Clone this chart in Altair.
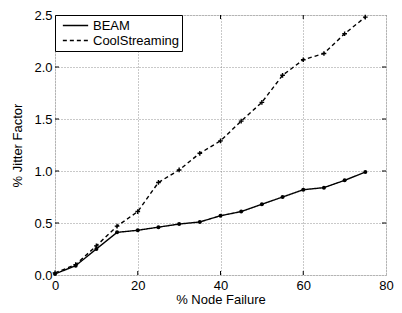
import altair as alt
import pandas as pd

failure = [0, 5, 10, 15, 20, 25, 30, 35, 40, 45, 50, 55, 60, 65, 70, 75]
beam = [0.01, 0.09, 0.25, 0.41, 0.43, 0.46, 0.49, 0.51, 0.57, 0.61, 0.68, 0.75, 0.82, 0.84, 0.91, 0.99]
cool = [0.02, 0.10, 0.28, 0.47, 0.61, 0.89, 1.01, 1.17, 1.29, 1.48, 1.66, 1.92, 2.07, 2.13, 2.32, 2.48]
series = ["BEAM", "CoolStreaming"]
x_ticks = [0, 20, 40, 60, 80]
y_ticks = [0, 0.5, 1, 1.5, 2, 2.5]

W, H = 331, 260
FONT = "Liberation Sans"
FS = 13

rows = []
for name, vals in zip(series, [beam, cool]):
    for f, v in zip(failure, vals):
        rows.append({"failure": f, "jitter": v, "series": name})
df = pd.DataFrame(rows)

xs = alt.Scale(domain=[0, 80], nice=False)
ys = alt.Scale(domain=[0, 2.5], nice=False)

common = dict(grid=True, gridDash=[1, 2], gridColor="#777", gridWidth=0.8,
              ticks=False, domain=False, labelFontSize=FS, titleFontSize=FS,
              labelFont=FONT, titleFont=FONT, labelColor="black",
              titleColor="black", titleFontWeight="normal", labelFlush=False)
xaxis = alt.Axis(values=x_ticks, title="% Node Failure", labelPadding=4,
                 titlePadding=1, **common)
yaxis = alt.Axis(values=y_ticks, title="% Jitter Factor", labelPadding=3,
                 titlePadding=9, **common)

base = alt.Chart(df)

lines = base.mark_line(color="black", strokeWidth=1.4).encode(
    x=alt.X("failure:Q", scale=xs, axis=xaxis),
    y=alt.Y("jitter:Q", scale=ys, axis=yaxis),
    strokeDash=alt.StrokeDash("series:N",
        scale=alt.Scale(domain=series, range=[[1, 0], [4, 3]]),
        legend=alt.Legend(title=None, orient="top-left", offset=0,
                          strokeColor="black", fillColor="white",
                          padding=3, labelFont=FONT, labelFontSize=FS,
                          labelColor="black", symbolType="M-2,0H2",
                          symbolStrokeColor="black", symbolFillColor="transparent",
                          symbolStrokeWidth=1.4, symbolOffset=10,
                          labelExpr="datum.label + '   '",
                          symbolSize=160, rowPadding=0, labelOffset=10)),
)

pts_beam = alt.Chart(df[df.series == "BEAM"]).mark_point(
    shape="circle", filled=True, color="black", size=16, opacity=1).encode(
    x=alt.X("failure:Q", scale=xs), y=alt.Y("jitter:Q", scale=ys))

pts_cool = alt.Chart(df[df.series == "CoolStreaming"]).mark_point(
    shape="M-1,0H1M0,-1V1", filled=False, color="black", size=22,
    strokeWidth=1.4, opacity=1).encode(
    x=alt.X("failure:Q", scale=xs), y=alt.Y("jitter:Q", scale=ys))

xt = pd.DataFrame({"v": x_ticks[1:-1]})
yt = pd.DataFrame({"v": y_ticks[1:-1]})
tick_bottom = alt.Chart(xt).mark_rule(color="black", strokeWidth=1).encode(
    x=alt.X("v:Q", scale=xs), y=alt.value(H - 4), y2=alt.value(H))
tick_top = alt.Chart(xt).mark_rule(color="black", strokeWidth=1).encode(
    x=alt.X("v:Q", scale=xs), y=alt.value(0), y2=alt.value(4))
tick_left = alt.Chart(yt).mark_rule(color="black", strokeWidth=1).encode(
    y=alt.Y("v:Q", scale=ys), x=alt.value(0), x2=alt.value(4))
tick_right = alt.Chart(yt).mark_rule(color="black", strokeWidth=1).encode(
    y=alt.Y("v:Q", scale=ys), x=alt.value(W - 4), x2=alt.value(W))

chart = alt.layer(lines, pts_beam, pts_cool, tick_bottom, tick_top, tick_left, tick_right).properties(
    width=W, height=H,
    autosize=alt.AutoSizeParams(type="none"),
    padding={"left": 47, "top": 7, "right": 8, "bottom": 30},
).configure_view(stroke="black", strokeWidth=1.8).configure(background="white")

chart.save("out.html", embed_options={"renderer": "svg", "actions": False})
